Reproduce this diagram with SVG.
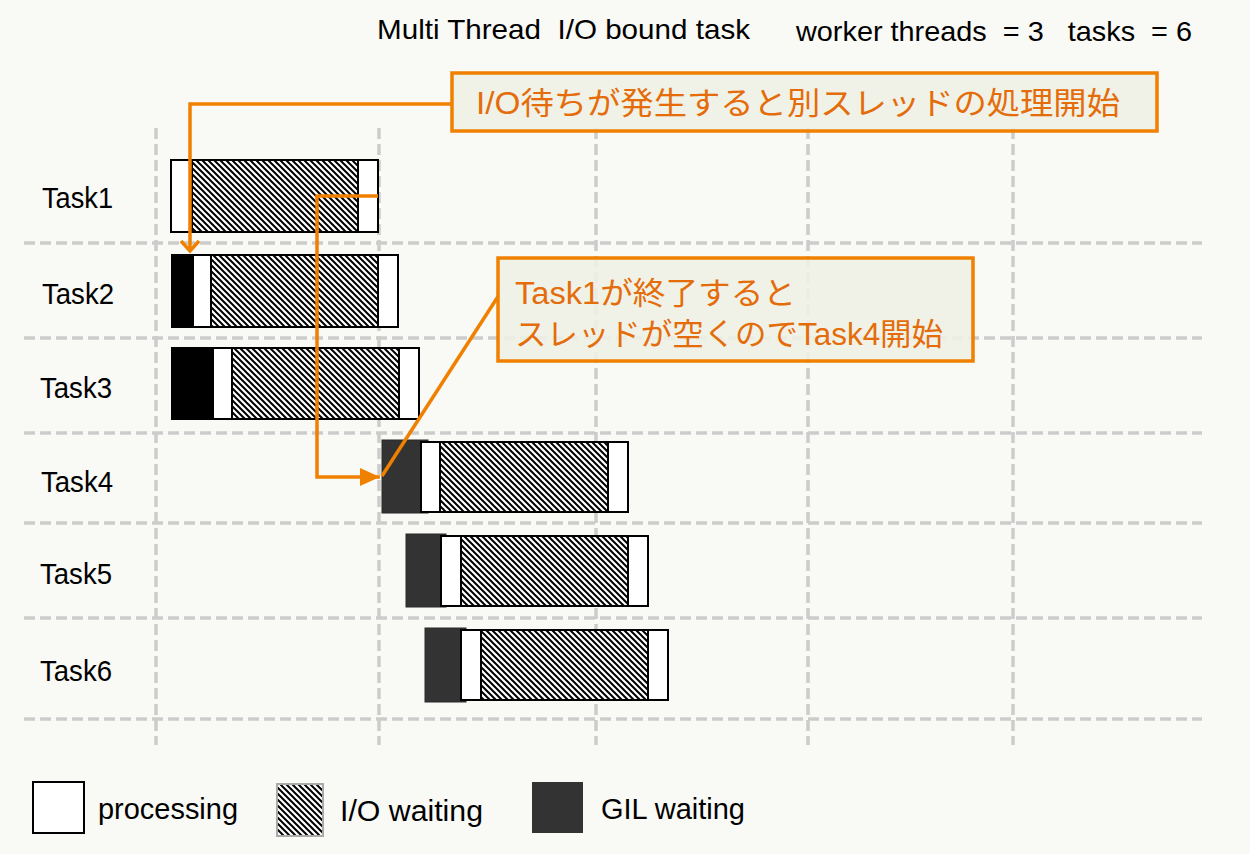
<svg xmlns="http://www.w3.org/2000/svg" width="1250" height="854" viewBox="0 0 1250 854">
<style>
.bg{fill:#f9f9f5}
.grid{stroke:#cccccc;stroke-width:3.5;stroke-dasharray:11 5;fill:none}
.proc{fill:#ffffff;stroke:#000;stroke-width:2}
.io{fill:url(#hatch);stroke:#000;stroke-width:2}
.gil{fill:#000;stroke:#000;stroke-width:2}
.gil2{fill:#333333;stroke:#2a2a2a;stroke-width:1}
.lbl{font-family:"Liberation Sans",Arial,sans-serif;font-size:30px;fill:#000}
.title{font-family:"Liberation Sans",Arial,sans-serif;font-size:28px;fill:#000}
.call{fill:#eef1e5;fill-opacity:0.9;stroke:#ef8000;stroke-width:3.5}
.ctext{font-family:"Liberation Sans","Noto Sans CJK JP",sans-serif;font-size:31px;fill:#e46c0a}
.conn{fill:none;stroke:#ef8000;stroke-width:3.5;stroke-linejoin:miter}
</style>
<defs>
<pattern id="hatch" patternUnits="userSpaceOnUse" width="6" height="6">
<rect width="6" height="6" fill="#fff"/>
<path d="M-1,-1 L7,7 M-7,-1 L1,7 M5,-1 L13,7" stroke="#000" stroke-width="2"/>
</pattern>
<marker id="chev" markerUnits="userSpaceOnUse" viewBox="-12 -12 24 24" markerWidth="24" markerHeight="24" refX="0" refY="0" orient="auto">
<path d="M-10,-9 L0,0 L-10,9" fill="none" stroke="#ef8000" stroke-width="3.5"/>
</marker>
<marker id="tri" markerUnits="userSpaceOnUse" viewBox="-22 -11 24 22" markerWidth="24" markerHeight="22" refX="0" refY="0" orient="auto">
<path d="M-20,-9 L0,0 L-20,9 Z" fill="#ef8000"/>
</marker>
</defs>
<rect class="bg" x="0" y="0" width="1250" height="854"/>

<g id="title">
<text class="title" x="377" y="39" textLength="373" lengthAdjust="spacingAndGlyphs" xml:space="preserve">Multi Thread  I/O bound task</text>
<text class="title" x="796" y="41" textLength="396" lengthAdjust="spacingAndGlyphs" xml:space="preserve">worker threads  = 3   tasks  = 6</text>
</g>

<g id="grid">
<line class="grid" x1="156" y1="128" x2="156" y2="745"/>
<line class="grid" x1="379" y1="128" x2="379" y2="745"/>
<line class="grid" x1="596" y1="128" x2="596" y2="745"/>
<line class="grid" x1="808" y1="128" x2="808" y2="745"/>
<line class="grid" x1="1013" y1="128" x2="1013" y2="745"/>
<line class="grid" x1="24" y1="243" x2="1202" y2="243"/>
<line class="grid" x1="24" y1="338" x2="1202" y2="338"/>
<line class="grid" x1="24" y1="433" x2="1202" y2="433"/>
<line class="grid" x1="24" y1="523" x2="1202" y2="523"/>
<line class="grid" x1="24" y1="618" x2="1202" y2="618"/>
<line class="grid" x1="24" y1="719" x2="1202" y2="719"/>
</g>

<g id="task1">
<text class="lbl" x="42" y="208" textLength="71" lengthAdjust="spacingAndGlyphs">Task1</text>
<rect class="proc" x="171" y="160" width="21" height="72"/>
<rect class="io" x="192" y="160" width="166" height="72"/>
<rect class="proc" x="358" y="160" width="20" height="72"/>
</g>

<g id="task2">
<text class="lbl" x="42" y="304" textLength="72" lengthAdjust="spacingAndGlyphs">Task2</text>
<rect class="gil" x="172" y="255" width="21" height="72"/>
<rect class="proc" x="193" y="255" width="18" height="72"/>
<rect class="io" x="211" y="255" width="167" height="72"/>
<rect class="proc" x="378" y="255" width="20" height="72"/>
</g>

<g id="task3">
<text class="lbl" x="40" y="398" textLength="72" lengthAdjust="spacingAndGlyphs">Task3</text>
<rect class="gil" x="172" y="348" width="41" height="71"/>
<rect class="proc" x="213" y="348" width="19" height="71"/>
<rect class="io" x="232" y="348" width="167" height="71"/>
<rect class="proc" x="399" y="348" width="20" height="71"/>
</g>

<g id="task4">
<text class="lbl" x="41" y="492" textLength="72" lengthAdjust="spacingAndGlyphs">Task4</text>
<rect class="gil2" x="382" y="440" width="46" height="73"/>
<rect class="proc" x="421" y="442" width="19" height="70"/>
<rect class="io" x="440" y="442" width="168" height="70"/>
<rect class="proc" x="608" y="442" width="20" height="70"/>
</g>

<g id="task5">
<text class="lbl" x="40" y="584" textLength="72" lengthAdjust="spacingAndGlyphs">Task5</text>
<rect class="gil2" x="406" y="534" width="40" height="73"/>
<rect class="proc" x="441" y="536" width="20" height="70"/>
<rect class="io" x="461" y="536" width="167" height="70"/>
<rect class="proc" x="628" y="536" width="20" height="70"/>
</g>

<g id="task6">
<text class="lbl" x="40" y="681" textLength="72" lengthAdjust="spacingAndGlyphs">Task6</text>
<rect class="gil2" x="425" y="628" width="41" height="74"/>
<rect class="proc" x="461" y="630" width="20" height="70"/>
<rect class="io" x="481" y="630" width="167" height="70"/>
<rect class="proc" x="648" y="630" width="20" height="70"/>
</g>

<g id="connectors">
<path class="conn" d="M452,104 L190,104 L190,251" marker-end="url(#chev)"/>
<path class="conn" d="M378,196 L317,196 L317,477 L380,477" marker-end="url(#tri)"/>
<path class="conn" d="M499,295 L382,476"/>
</g>

<g id="callout1">
<rect class="call" x="452" y="73" width="705" height="58"/>
<text class="ctext" x="476" y="114" textLength="644" lengthAdjust="spacingAndGlyphs">I/O待ちが発生すると別スレッドの処理開始</text>
</g>

<g id="callout2">
<rect class="call" x="498" y="258" width="475" height="103"/>
<text class="ctext" x="515" y="304" textLength="281" lengthAdjust="spacingAndGlyphs">Task1が終了すると</text>
<text class="ctext" x="515" y="345" textLength="428" lengthAdjust="spacingAndGlyphs">スレッドが空くのでTask4開始</text>
</g>

<g id="legend">
<rect x="33" y="782" width="51" height="51" fill="#fff" stroke="#000" stroke-width="2"/>
<text class="lbl" x="98" y="819" textLength="140" lengthAdjust="spacingAndGlyphs">processing</text>
<rect x="277" y="784" width="46" height="52" fill="url(#hatch)" stroke="#aaaaaa" stroke-width="2"/>
<text class="lbl" x="340" y="821" textLength="143" lengthAdjust="spacingAndGlyphs">I/O waiting</text>
<rect x="532" y="782" width="51" height="51" fill="#333333"/>
<text class="lbl" x="601" y="819" textLength="144" lengthAdjust="spacingAndGlyphs">GIL waiting</text>
</g>
</svg>
